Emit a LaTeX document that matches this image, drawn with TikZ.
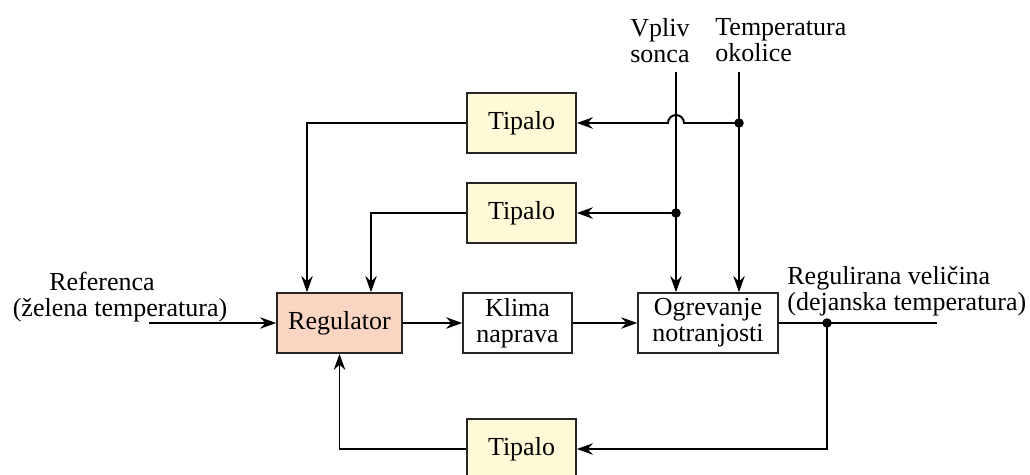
\documentclass[tikz,border=0pt]{standalone}
\usepackage{fontspec}
\setmainfont{Liberation Serif}
\usetikzlibrary{positioning,calc,arrows.meta}
\definecolor{tipfill}{RGB}{254,249,214}
\definecolor{regfill}{RGB}{250,213,194}
\tikzset{
blok/.style={draw=black!85,line width=1pt,minimum height=1.2cm,inner sep=0pt,align=center,font=\fontsize{14.8}{14.8}\selectfont},
tipalo/.style={blok,fill=tipfill,minimum width=2.18cm},
vod/.style={line width=1.1pt},
puscica/.style={vod,-{Stealth[length=3.2mm,width=2.3mm]}},
pika/.style={circle,fill=black,inner sep=0pt,minimum size=1.9mm},
oznaka/.style={font=\fontsize{14.8}{14.8}\selectfont,align=left,inner sep=0pt}
}

\begin{document}
\begin{tikzpicture}[x=0.02cm,y=-0.02cm]
\useasboundingbox (0,0) rectangle (1030,474);
% glavna veja
\node[blok,fill=regfill,minimum width=2.5cm] (reg) at (339.5,323) {Regulator};
\node[blok,minimum width=2.18cm] (klima) at (517.5,323) {Klima\\naprava};
\node[blok,minimum width=2.8cm] (ogr) at (708,323) {Ogrevanje\\notranjosti};
\node[tipalo] (tip1) at (521.5,123) {Tipalo};
\node[tipalo] (tip2) at (521.5,213) {Tipalo};
\node[tipalo] (tip3) at (521.5,449) {Tipalo};
% napisi
\node[oznaka,anchor=west] (vpliv) at (630,40.5) {Vpliv\\sonca};
\node[oznaka,anchor=west] (okol) at (715,40.5) {Temperatura\\okolice};
\node[oznaka,align=center] (ref) at (120,297) {Referenca\hspace*{0.72cm}\\(želena temperatura)};
\node[oznaka,anchor=west] (izhod) at (787,291.5) {Regulirana veličina\\(dejanska temperatura)};
% tocke
\coordinate (vz) at (676,72);
\coordinate (tz) at (739,72);
\coordinate (v2) at (676,213);
\coordinate (t1) at (739,123);
\coordinate (vstop) at (149,323);
\coordinate (izh) at (937,323);
\coordinate (razc) at (827,323);
% motnje
\draw[puscica] (vz) -- (vz |- ogr.north);
\draw[puscica] (tz) -- (tz |- ogr.north);
\draw[puscica] (v2) -- (tip2.east);
\draw[puscica] (t1) -- ($(vz |- t1)+(8,0)$) arc[start angle=0,end angle=180,radius=0.16cm] -- (tip1.east);
\draw[puscica] (tip1.west) -| ($(reg.north)+(-32.5,0)$);
\draw[puscica] (tip2.west) -| ($(reg.north)+(31.5,0)$);
% zanka
\draw[puscica] (vstop) -- (reg.west);
\draw[puscica] (reg) -- (klima);
\draw[puscica] (klima) -- (ogr);
\draw[vod] (ogr.east) -- (izh);
\draw[puscica] (razc) |- (tip3.east);
\draw[puscica] (tip3.west) -| (reg.south);
\node[pika] (p1) at (v2) {};
\node[pika] (p2) at (t1) {};
\node[pika] (p3) at (razc) {};
\end{tikzpicture}
\end{document}
